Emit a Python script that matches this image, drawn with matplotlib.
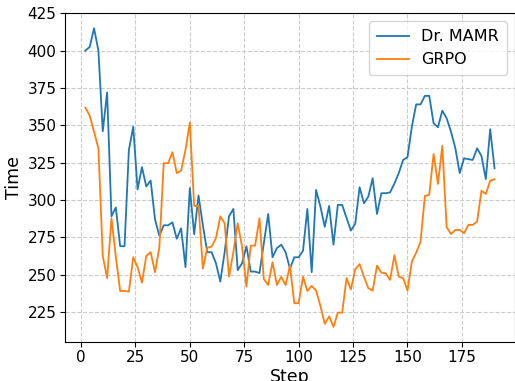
import numpy as np
import matplotlib
matplotlib.use("Agg")
import matplotlib.pyplot as plt

steps = list(range(2, 192, 2))

mamr_time = [
    400, 402.5, 415, 400, 346, 372, 289, 295, 269, 269,
    333.5, 349, 307, 322, 309, 313, 287, 276, 283, 283,
    285, 274, 281, 255, 308, 277, 303, 283, 265,
    265, 257.6, 245.3, 265, 289, 294, 253, 257.6, 269, 252,
    252, 251, 271, 290.6, 261.6, 267.7, 270, 265, 254, 261.6,
    261.6, 266, 294, 251.6, 306.7, 295.5, 282, 296, 270, 296.7,
    296.7, 288, 279.5,
    284, 308.5, 297.8, 302.2, 314.5, 290.6, 304.5, 304.5, 305, 311,
    318, 326.8, 328.6, 349, 364, 364, 369.7, 369.7, 351.4, 348.7,
    359.8, 354.7, 345.7, 334.6, 318, 327.9, 327.3, 326.8, 334.6, 329.4,
    314, 347.4, 321.2,
]

grpo_time = [
    361.8, 356.5, 345.7, 334.6, 262.5, 247.6, 287.8, 262, 239, 239,
    238.6, 261.6, 255, 244.6, 262.5, 265, 251.6, 268.3, 324.6, 324.6,
    332, 318, 319.6, 333.5, 351.8, 296, 296, 254, 268,
    268.7, 274.4, 289, 284.4, 248.6, 265, 284.4, 268.7, 242, 269.4,
    269.4, 287.7, 247, 243, 258.3, 243, 248.6, 243, 256, 230.8,
    230.8, 248.6, 239, 242.4, 239.3, 229, 217, 222, 215, 224.5,
    224.5, 247.6, 240,
    253.6, 257, 248.6, 240.9, 239.3, 256, 251.3, 250.9, 246.4, 263,
    248.6, 247.6, 239.3, 258.7, 264.7, 272, 302.7, 303.4, 330.8, 310.7,
    336.2, 281.7, 277.2, 279.9, 279.9, 277.7, 283.3, 283.3, 285.5, 306.2,
    304, 312.9, 313.9,
]

xticks = [0, 25, 50, 75, 100, 125, 150, 175]
yticks = [225, 250, 275, 300, 325, 350, 375, 400, 425]


def main():
    fig = plt.figure(figsize=(5.15, 3.81), dpi=100)
    ax = fig.add_axes([0.126, 0.103, 0.874, 0.862])

    ax.plot(steps, mamr_time, color="#1f77b4", linewidth=1.3, label="Dr. MAMR")
    ax.plot(steps, grpo_time, color="#ff7f0e", linewidth=1.3, label="GRPO")

    ax.set_xticks(xticks)
    ax.set_yticks(yticks)
    ax.set_ylim(205, 425)
    ax.tick_params(labelsize=11, length=3.5, pad=2.5)
    ax.set_xlabel("Step", fontsize=12.5, labelpad=2)
    ax.set_ylabel("Time", fontsize=12.5, labelpad=3)
    ax.grid(True, linestyle="--", color="#cccccc", linewidth=0.8)
    ax.legend(loc="upper right", fontsize=11.5, borderpad=0.5)

    fig.savefig("out.png", dpi=100)
    plt.close(fig)


if __name__ == "__main__":
    main()
